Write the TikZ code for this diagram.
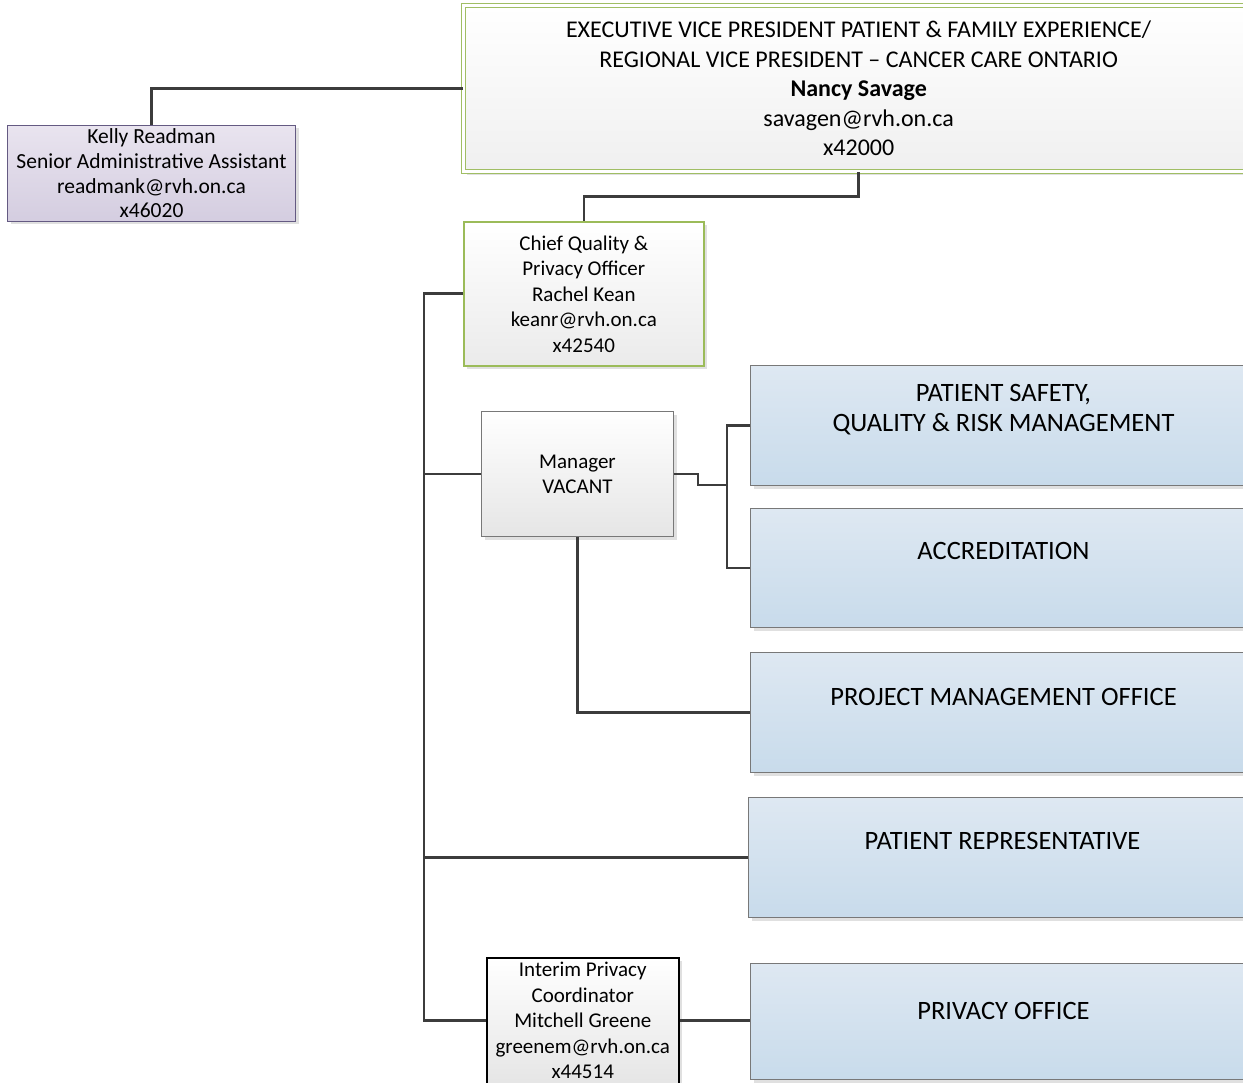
\documentclass[tikz,border=0pt]{standalone}
\usepackage{fontspec}
\setmainfont{Carlito}
\usetikzlibrary{shadows}
\definecolor{lineclr}{RGB}{60,60,60}
\definecolor{evpgreen}{RGB}{160,190,100}
\definecolor{chiefgreen}{RGB}{155,187,89}
\definecolor{kellyline}{RGB}{100,90,130}
\definecolor{kellytop}{RGB}{233,228,239}
\definecolor{kellybot}{RGB}{212,205,224}
\definecolor{bluetop}{RGB}{222,232,242}
\definecolor{bluebot}{RGB}{200,219,235}
\definecolor{greyline}{RGB}{120,120,120}
\begin{document}
\begin{tikzpicture}[x=1pt, y=-1pt,
  every node/.style={inner sep=0pt, anchor=north west, align=center},
  boxshadow/.style={drop shadow={shadow xshift=3pt, shadow yshift=-3pt, fill=black!20, opacity=.6}},
  evpbox/.style={boxshadow, draw=evpgreen, double=white, double distance=3pt, line width=1.3pt, top color=white, bottom color=black!6, font=\fontsize{24}{29.5}\selectfont},
  kellybox/.style={boxshadow, draw=kellyline, line width=1pt, top color=kellytop, bottom color=kellybot, font=\fontsize{21.5}{24.7}\selectfont},
  chiefbox/.style={boxshadow, draw=chiefgreen, line width=1.6pt, top color=white, bottom color=black!8, font=\fontsize{21}{25.5}\selectfont},
  mgrbox/.style={boxshadow, draw=greyline, line width=1pt, top color=white, bottom color=black!10, font=\fontsize{21}{25}\selectfont},
  interimbox/.style={boxshadow, draw=black, line width=1.5pt, top color=white, bottom color=black!10, font=\fontsize{21}{25.5}\selectfont},
  bluebox/.style={boxshadow, draw=greyline, line width=1pt, top color=bluetop, bottom color=bluebot, minimum width=506, minimum height=120},
  bluetext/.style={anchor=center, font=\fontsize{26.5}{30}\selectfont},
  link/.style={draw=lineclr, line width=2.6pt}]
  \useasboundingbox (0,0) rectangle (1243,1083);

  \node[evpbox, minimum width=790, minimum height=166] (evp) at (463,5)
    {EXECUTIVE VICE PRESIDENT PATIENT \& FAMILY EXPERIENCE/\\REGIONAL VICE PRESIDENT -- CANCER CARE ONTARIO\\\textbf{Nancy Savage}\\savagen@rvh.on.ca\\x42000};
  \node[kellybox, minimum width=288, minimum height=96] (kelly) at (7,125)
    {Kelly Readman\\Senior Administrative Assistant\\readmank@rvh.on.ca\\x46020};
  \node[chiefbox, minimum width=240, minimum height=144] (chief) at (463,221)
    {Chief Quality \&\\Privacy Officer\\Rachel Kean\\keanr@rvh.on.ca\\x42540};
  \node[mgrbox, minimum width=192, minimum height=125] (mgr) at (481,411) {Manager\\VACANT};
  \node[interimbox, minimum width=192, minimum height=126] (interim) at (486,957)
    {Interim Privacy\\Coordinator\\Mitchell Greene\\greenem@rvh.on.ca\\x44514};

  \node[bluebox] (ps) at (750,365) {};
  \node[bluebox, minimum height=119] (acc) at (750,508) {};
  \node[bluebox] (pmo) at (750,652) {};
  \node[bluebox, minimum width=508] (prep) at (748,797) {};
  \node[bluebox, minimum height=116] (priv) at (750,963) {};
  \node[bluetext] (pstext) at ([yshift=-45pt]ps.north) {PATIENT SAFETY,\\QUALITY \& RISK MANAGEMENT};
  \node[bluetext] (acctext) at ([yshift=-43pt]acc.north) {ACCREDITATION};
  \node[bluetext] (pmotext) at ([yshift=-45pt]pmo.north) {PROJECT MANAGEMENT OFFICE};
  \node[bluetext] (preptext) at ([yshift=-44pt]prep.north) {PATIENT REPRESENTATIVE};
  \node[bluetext] (privtext) at ([yshift=-48pt]priv.north) {PRIVACY OFFICE};

  \coordinate (bus) at (424,0);
  \coordinate (sub) at (727,0);
  \draw[link] (evp.west) -| (kelly.north);
  \draw[link] (evp.south) -- ++(0,24) -| (chief.north);
  \draw[link] (chief.west) -| (bus |- interim.west) -- (interim.west);
  \draw[link] (bus |- mgr.west) -- (mgr.west);
  \draw[link] (bus |- prep.west) -- (prep.west);
  \draw[link] (mgr.east) -- ++(24,0) -- ++(0,11) -- ++(30,0);
  \draw[link] (ps.west) -- (sub |- ps.west) -- (sub |- acc.west) -- (acc.west);
  \draw[link] (mgr.south) |- (pmo.west);
  \draw[link] (interim.east) -- (interim.east -| priv.west);
\end{tikzpicture}
\end{document}
